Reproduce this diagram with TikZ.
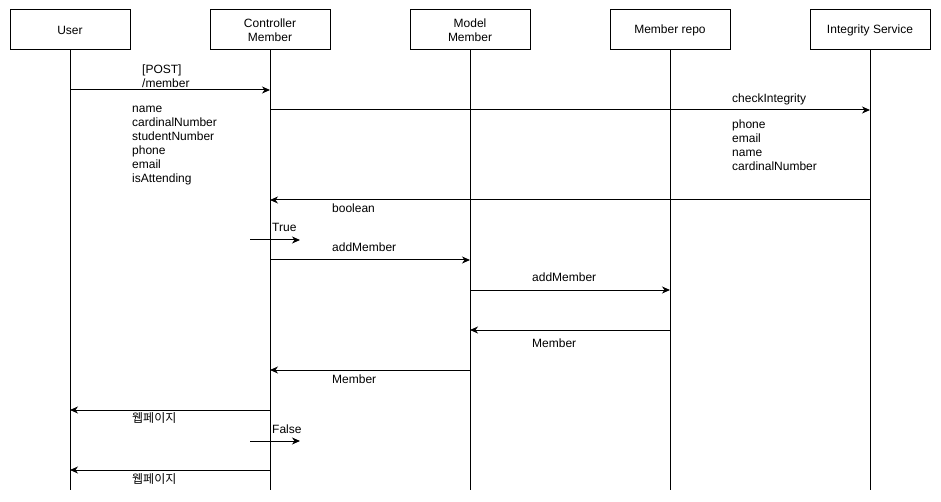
\documentclass[tikz,border=0pt]{standalone}
\usepackage{fontspec}
\setmainfont{Liberation Sans}
\newfontfamily\krfont{Noto Sans CJK KR}
\usetikzlibrary{arrows.meta,positioning}
\tikzset{
  actor/.style={draw,line width=1pt,minimum width=120pt,minimum height=40pt,align=center,inner sep=0pt,outer sep=0pt},
  life/.style={line width=1pt},
  msg/.style={line width=1pt,-{Stealth[length=8pt,width=7pt,inset=2.5pt]}},
  lbl/.style={anchor=base west,inner sep=0pt},
}

\begin{document}
\begin{tikzpicture}[x=1pt,y=-1pt,font=\fontsize{12}{14}\selectfont]
  \useasboundingbox (0,0) rectangle (941,502);
  % participants
  \node[actor] (user) at (70,30) {User};
  \node[actor,right=80pt of user] (ctrl) {Controller\\Member};
  \node[actor,right=80pt of ctrl] (model) {Model\\Member};
  \node[actor,right=80pt of model] (repo) {Member repo};
  \node[actor,right=80pt of repo] (integ) {Integrity Service};
  \foreach \n in {user,ctrl,model,repo,integ} {
    \coordinate (\n-end) at (\n |- 0,490);
    \draw[life] (\n) -- (\n-end);
  }
  % request
  \draw[msg] (user |- 0,90) -- (ctrl |- 0,90);
  \node[lbl] (post) at (142,74) {[POST]};
  \node[lbl] (path) at (142,88) {/member};
  \foreach \t [count=\i] in {name,cardinalNumber,studentNumber,phone,email,isAttending}
    \node[lbl] (req\i) at (132,99+14*\i) {\t};
  % integrity check
  \draw[msg] (ctrl |- 0,110) -- (integ |- 0,110);
  \node[lbl] (chk) at (732,103) {checkIntegrity};
  \foreach \t [count=\i] in {phone,email,name,cardinalNumber}
    \node[lbl] (chk\i) at (732,115+14*\i) {\t};
  \draw[msg] (integ |- 0,200) -- (ctrl |- 0,200);
  \node[lbl] (bool) at (332,213) {boolean};
  % true branch
  \coordinate (trueA) at (250,240);
  \coordinate (trueB) at (300,240);
  \draw[msg] (trueA) -- (trueB);
  \node[lbl] (truelbl) at (272,232) {True};
  \draw[msg] (ctrl |- 0,260) -- (model |- 0,260);
  \node[lbl] (add1) at (332,252) {addMember};
  \draw[msg] (model |- 0,290) -- (repo |- 0,290);
  \node[lbl] (add2) at (532,282) {addMember};
  \draw[msg] (repo |- 0,330) -- (model |- 0,330);
  \node[lbl] (ret1) at (532,347) {Member};
  \draw[msg] (model |- 0,370) -- (ctrl |- 0,370);
  \node[lbl] (ret2) at (332,383) {Member};
  \draw[msg] (ctrl |- 0,410) -- (user |- 0,410);
  \node[lbl,font=\fontsize{12}{14}\krfont] (page1) at (132,422) {웹페이지};
  % false branch
  \coordinate (falseA) at (250,441);
  \coordinate (falseB) at (300,441);
  \draw[msg] (falseA) -- (falseB);
  \node[lbl] (falselbl) at (272,433) {False};
  \draw[msg] (ctrl |- 0,470) -- (user |- 0,470);
  \node[lbl,font=\fontsize{12}{14}\krfont] (page2) at (132,483) {웹페이지};
\end{tikzpicture}
\end{document}
